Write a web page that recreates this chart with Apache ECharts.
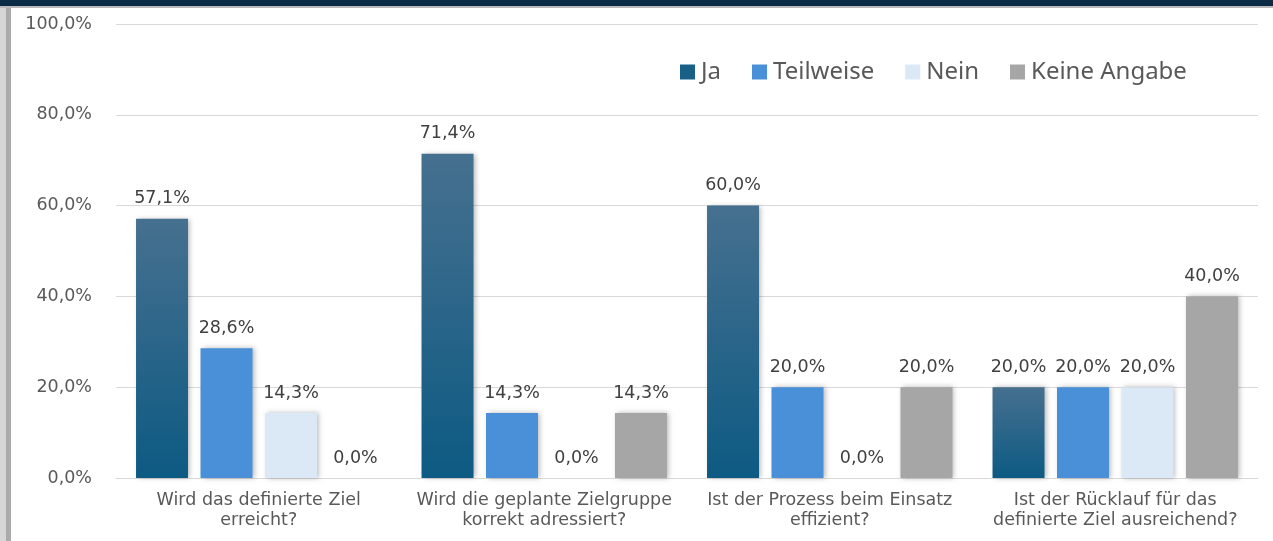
<!DOCTYPE html>
<html><head><meta charset="utf-8">
<script src="https://cdn.jsdelivr.net/npm/echarts@6/dist/echarts.min.js"></script>
<style>html,body{margin:0;padding:0;background:#fff}#c{width:1273px;height:541px}</style>
</head><body><div id="c"></div>
<script>
const categories = ["Wird das definierte Ziel\nerreicht?", "Wird die geplante Zielgruppe\nkorrekt adressiert?", "Ist der Prozess beim Einsatz\neffizient?", "Ist der Rücklauf für das\ndefinierte Ziel ausreichend?"];
const seriesNames = ["Ja", "Teilweise", "Nein", "Keine Angabe"];
const ja = [57.1, 71.4, 60.0, 20.0];
const teilweise = [28.6, 14.3, 20.0, 20.0];
const nein = [14.3, 0.0, 0.0, 20.0];
const keineAngabe = [0.0, 14.3, 20.0, 40.0];

const fmt = v => v.toFixed(1).replace('.', ',') + '%';
const colors = [
  {type:'linear',x:0,y:0,x2:0,y2:1,colorStops:[{offset:0,color:'#46708f'},{offset:1,color:'#0d5a83'}]},
  '#4a90d9', '#dbe8f5', '#a6a6a6'
];
const legendColors = ['#1a5f86', '#4a90d9', '#dbe8f5', '#a6a6a6'];
const datasets = [ja, teilweise, nein, keineAngabe];
const chart = echarts.init(document.getElementById('c'), null, {renderer:'canvas'});
chart.setOption({
  animation:false,
  backgroundColor:'#fff',
  graphic:[
    {type:'rect', shape:{x:0,y:0,width:1273,height:6}, style:{fill:'#0b2a45'}},
    {type:'rect', shape:{x:0,y:6,width:1273,height:2}, style:{fill:'#b8b8b8'}},
    {type:'rect', shape:{x:0,y:8,width:6,height:533}, style:{fill:'#d6d6d6'}},
    {type:'rect', shape:{x:6,y:8,width:5,height:533}, style:{fill:'#ababab'}}
  ],
  legend:{
    data: seriesNames.map((n,i)=>({name:n, itemStyle:{color:legendColors[i]}})),
    top: 55, left: 675,
    itemWidth:15, itemHeight:15, itemGap:31,
    icon:'rect',
    textStyle:{fontFamily:'Noto Sans', fontSize:24, color:'#595959', padding:[0,0,0,1]}
  },
  grid:{left:116, right:15, top:24, bottom:63, containLabel:false},
  xAxis:{
    type:'category', data:categories,
    axisTick:{show:false},
    axisLine:{lineStyle:{color:'#d9d9d9'}},
    axisLabel:{interval:0, hideOverlap:false, fontFamily:'DejaVu Sans', fontSize:17.5, color:'#595959', lineHeight:20, margin:12}
  },
  yAxis:{
    type:'value', min:0, max:100, interval:20,
    axisLabel:{formatter:v=>fmt(v), fontFamily:'DejaVu Sans', fontSize:17.5, color:'#595959', margin:24},
    splitLine:{lineStyle:{color:'#d9d9d9'}}
  },
  series: datasets.map((d,i)=>({
    name: seriesNames[i], type:'bar', data:d,
    barWidth:52, barGap:'24%',
    itemStyle:{color:colors[i], shadowBlur:5, shadowColor:'rgba(0,0,0,0.28)', shadowOffsetX:2, shadowOffsetY:0},
    label:{show:true, position:'top', distance:11, formatter:p=>fmt(p.value), fontFamily:'DejaVu Sans', fontSize:17.5, color:'#404040'}
  }))
});
</script></body></html>
